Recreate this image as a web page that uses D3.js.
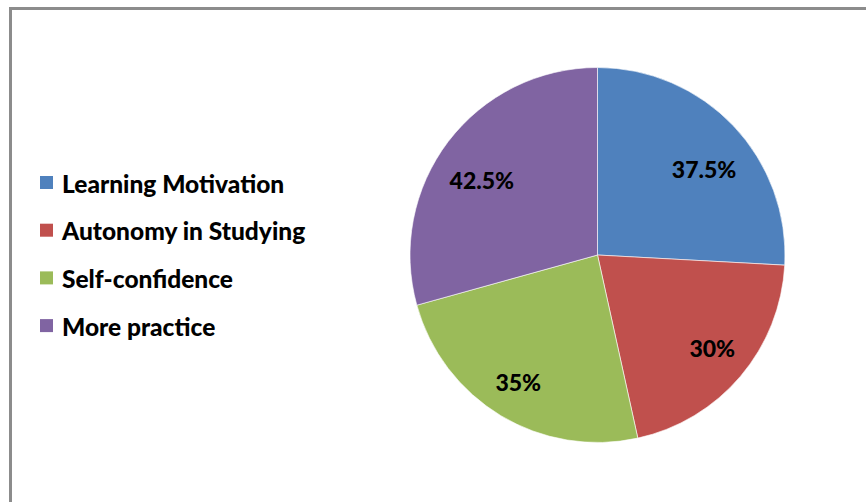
<!DOCTYPE html>
<html>
<head>
<meta charset="utf-8">
<script src="https://cdn.jsdelivr.net/npm/d3@7"></script>
<style>
  html, body { margin: 0; padding: 0; background: #fff; }
  svg { display: block; }
  text { font-family: Lato, "Open Sans", "Liberation Sans", sans-serif; font-weight: 900; }
</style>
</head>
<body>
<svg id="chart" width="866" height="502"></svg>
<script>
const categories = ["Learning Motivation", "Autonomy in Studying", "Self-confidence", "More practice"];
const values = [37.5, 30, 35, 42.5];
const valueLabels = ["37.5%", "30%", "35%", "42.5%"];
const colors = ["#4F81BD", "#C0504D", "#9BBB59", "#8064A2"];

const svg = d3.select("#chart");

// chart frame
svg.append("path")
  .attr("d", "M10.5,502 L10.5,8.5 L866,8.5")
  .attr("fill", "none")
  .attr("stroke", "#8c8c8c")
  .attr("stroke-width", 3);

const cx = 597.5, cy = 255, r = 187.5;
const pie = d3.pie().sort(null).value(d => d)(values);
const arc = d3.arc().innerRadius(0).outerRadius(r);
const labelArc = d3.arc().innerRadius(144).outerRadius(144);
// best-fit style nudges of the data labels (layout only)
const nudge = [[2, 13], [5, 0], [-5, 4], [-1, 12]];

const g = svg.append("g").attr("transform", `translate(${cx},${cy})`);
g.selectAll("path.slice")
  .data(pie)
  .join("path")
  .attr("class", "slice")
  .attr("d", arc)
  .attr("fill", (d, i) => colors[i])
  .attr("stroke", "#ffffff")
  .attr("stroke-width", 0.6);

g.selectAll("text.lbl")
  .data(pie)
  .join("text")
  .attr("class", "lbl")
  .attr("transform", (d, i) => {
    const c = labelArc.centroid(d);
    return `translate(${c[0] + nudge[i][0]},${c[1] + nudge[i][1]})`;
  })
  .attr("text-anchor", "middle")
  .attr("dominant-baseline", "central")
  .attr("font-size", 23)
  .attr("fill", "#000")
  .text((d, i) => valueLabels[i]);

// legend
const legend = svg.append("g").attr("transform", "translate(40,176)");
const rowH = 47.7;
const items = legend.selectAll("g.item")
  .data(categories)
  .join("g")
  .attr("class", "item")
  .attr("transform", (d, i) => `translate(0,${i * rowH})`);
items.append("rect")
  .attr("x", 0).attr("y", 0)
  .attr("width", 13).attr("height", 13)
  .attr("fill", (d, i) => colors[i]);
items.append("text")
  .attr("x", 22).attr("y", 7)
  .attr("dominant-baseline", "central")
  .attr("font-size", 24.5)
  .attr("fill", "#000")
  .text(d => d);
</script>
</body>
</html>
